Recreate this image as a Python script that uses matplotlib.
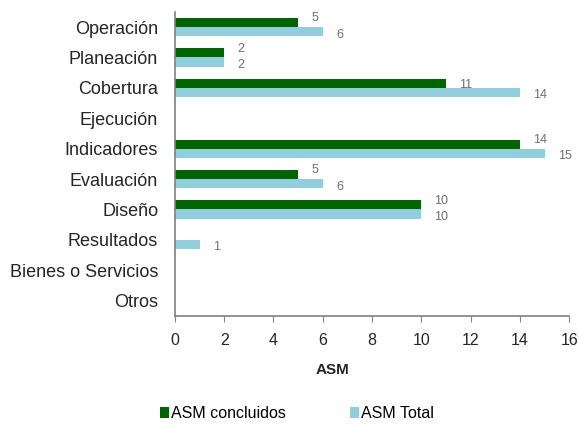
import matplotlib
matplotlib.use("Agg")
import matplotlib.pyplot as plt
import numpy as np

categories = ["Operación", "Planeación", "Cobertura", "Ejecución", "Indicadores",
              "Evaluación", "Diseño", "Resultados", "Bienes o Servicios", "Otros"]
concluidos = [5, 2, 11, 0, 14, 5, 10, 0, 0, 0]
total = [6, 2, 14, 0, 15, 6, 10, 1, 0, 0]
xticks = [0, 2, 4, 6, 8, 10, 12, 14, 16]

plt.rcParams['font.family'] = ['Liberation Sans', 'DejaVu Sans']

fig = plt.figure(figsize=(5.79, 4.24), dpi=100)
ax = fig.add_axes([0.302, 0.255, 0.681, 0.717])

green = "#006400"
blue = "#92CDDC"
h = 0.3
y = np.arange(len(categories))
ax.barh(y - h/2, concluidos, height=h, color=green, label="ASM concluidos")
ax.barh(y + h/2, total, height=h, color=blue, label="ASM Total")

for yi, v, t in zip(y, concluidos, total):
    if v > 0:
        dy = 4 if abs(t - v) < 1.5 else 0
        ax.annotate(str(v), (v, yi - h/2), xytext=(9.5, dy), textcoords="offset points",
                    ha="left", va="center_baseline", fontsize=9, color="#707070")
for yi, v in zip(y, total):
    if v > 0:
        ax.annotate(str(v), (v, yi + h/2), xytext=(9.5, -1), textcoords="offset points",
                    ha="left", va="center_baseline", fontsize=9, color="#707070")

ax.set_ylim(len(categories) - 0.5, -0.5)
ax.set_xlim(0, 16)
ax.set_xticks(xticks)
ax.set_yticks(y)
ax.set_yticklabels(categories, fontsize=13, color="#252525")
ax.tick_params(axis="y", length=0, pad=12)
ax.tick_params(axis="x", labelsize=11.5, colors="#252525", length=4, color="#808080", pad=8)
for s in ["top", "right"]:
    ax.spines[s].set_visible(False)
for s in ["left", "bottom"]:
    ax.spines[s].set_color("#808080")
    ax.spines[s].set_linewidth(1.2)
ax.set_xlabel("ASM", fontsize=11, fontweight="bold", color="#252525")
ax.xaxis.set_label_coords(0.401, -0.155)

fig.legend(loc="center", bbox_to_anchor=(0.513, 0.024), ncol=2, frameon=False,
           fontsize=11.5, handlelength=0.55, handleheight=0.7, handletextpad=0.15,
           columnspacing=4.0, borderpad=0)

fig.savefig("out.png", dpi=100)
